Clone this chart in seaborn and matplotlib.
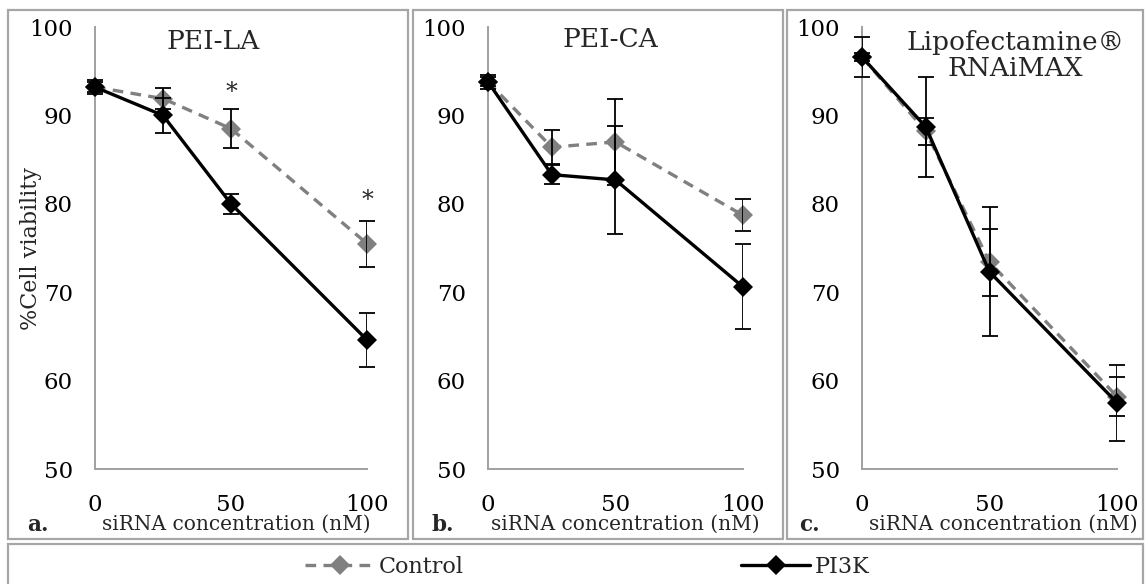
import numpy as np
import pandas as pd
import matplotlib
matplotlib.use("Agg")
import matplotlib.pyplot as plt
from matplotlib.patches import Rectangle
from matplotlib.lines import Line2D
import seaborn as sns

# ---------------- data ----------------
conc = [0, 25, 50, 100]
panels = ["PEI-LA", "PEI-CA", "Lipofectamine®\nRNAiMAX"]
panel_letters = ["a.", "b.", "c."]

ctrl_a = [93.2, 91.9, 88.5, 75.5]
ctrl_a_err = [0.6, 1.2, 2.2, 2.6]
pi3k_a = [93.2, 90.0, 80.0, 64.6]
pi3k_a_err = [0.8, 2.0, 1.1, 3.1]

ctrl_b = [93.8, 86.4, 87.0, 78.7]
ctrl_b_err = [0.5, 1.9, 4.9, 1.8]
pi3k_b = [93.8, 83.3, 82.7, 70.6]
pi3k_b_err = [0.8, 1.1, 6.1, 4.8]

ctrl_c = [96.6, 88.2, 73.4, 58.2]
ctrl_c_err = [0.5, 1.5, 3.8, 2.2]
pi3k_c = [96.6, 88.7, 72.3, 57.5]
pi3k_c_err = [2.3, 5.7, 7.3, 4.3]

star_x = [50, 100]
star_y = [92.6, 80.4]

series_names = ["Control", "PI3K"]
y_ticks = [50, 60, 70, 80, 90, 100]
x_ticks = [0, 50, 100]

# ---------------- style ----------------
sns.set_style("white")
plt.rcParams["font.family"] = ["DejaVu Serif"]

W, H = 1145, 584
fig = plt.figure(figsize=(W / 100, H / 100), dpi=100)

def fx(px):
    return px / W

def fy(py):
    return 1 - py / H

top_px, bot_px = 27, 469
axes_px = [(95, 367), (488, 743), (862, 1117)]
colors = {"Control": "#808080", "PI3K": "#000000"}
spine_col = "#a0a0a0"

data = [
    (ctrl_a, ctrl_a_err, pi3k_a, pi3k_a_err),
    (ctrl_b, ctrl_b_err, pi3k_b, pi3k_b_err),
    (ctrl_c, ctrl_c_err, pi3k_c, pi3k_c_err),
]

title_pos = [(0.436, 0.968), (0.478, 0.972), (0.60, 0.935)]
xlabel_x = [0.518, 0.537, 0.553]
letter_px = [38, 443, 809]

# panel boxes
boxes = [(8, 408), (413, 783), (787, 1143)]
for (x0, x1) in boxes:
    fig.patches.append(Rectangle((fx(x0), fy(539)), fx(x1 - x0), (539 - 10) / H,
                                 transform=fig.transFigure, fill=False,
                                 edgecolor="#a6a6a6", linewidth=1.6, zorder=0))
# legend box
fig.patches.append(Rectangle((fx(8), -0.05), fx(1143 - 8), (584 - 544) / H + 0.05,
                             transform=fig.transFigure, fill=False,
                             edgecolor="#a6a6a6", linewidth=1.6, zorder=0))

for i, ((l, r), (c, ce, p, pe)) in enumerate(zip(axes_px, data)):
    ax = fig.add_axes([fx(l), fy(bot_px), fx(r - l), (bot_px - top_px) / H])
    ax.patch.set_alpha(0)
    df = pd.DataFrame({
        "conc": conc * 2,
        "viability": c + p,
        "series": ["Control"] * 4 + ["PI3K"] * 4,
    })
    sns.lineplot(data=df, x="conc", y="viability", hue="series", style="series",
                 palette=colors, dashes={"Control": (3.2, 2.2), "PI3K": ""},
                 markers={"Control": "D", "PI3K": "D"}, markersize=10,
                 markeredgewidth=0, linewidth=2.4, ax=ax, legend=False,
                 hue_order=series_names, style_order=series_names, zorder=3)
    lines = ax.get_lines()
    if len(lines) >= 2:
        lines[0].set_zorder(3)
        lines[1].set_zorder(4)
    ax.errorbar(conc, c, yerr=ce, fmt="none", ecolor="black", elinewidth=1.3,
                capsize=6, capthick=1.3, zorder=5)
    ax.errorbar(conc, p, yerr=pe, fmt="none", ecolor="black", elinewidth=1.3,
                capsize=6, capthick=1.3, zorder=5)

    ax.set_xlim(0, 100)
    ax.set_ylim(50, 100)
    ax.set_xticks(x_ticks)
    ax.set_yticks(y_ticks)
    ax.set_xticklabels([str(v) for v in x_ticks])
    ax.set_yticklabels([str(v) for v in y_ticks])
    for s in ["top", "right"]:
        ax.spines[s].set_visible(False)
    for s in ["left", "bottom"]:
        ax.spines[s].set_color(spine_col)
        ax.spines[s].set_linewidth(1.4)
        ax.spines[s].set_zorder(1)
    ax.tick_params(axis="both", direction="out", length=6, width=1.4,
                   color=spine_col, labelsize=16.5, labelcolor="black")
    ax.tick_params(axis="x", pad=12)
    ax.tick_params(axis="y", pad=10)
    ax.set_xlabel("siRNA concentration (nM)", fontsize=14.5)
    ax.xaxis.set_label_coords(xlabel_x[i], -0.103)
    if i == 0:
        ax.set_ylabel("%Cell viability", fontsize=16)
        ax.yaxis.set_label_coords(-0.195, 0.5)
        for sx, sy in zip(star_x, star_y):
            ax.text(sx, sy, "*", ha="center", va="center", fontsize=17)
    else:
        ax.set_ylabel("")
    ax.text(title_pos[i][0], title_pos[i][1], panels[i], transform=ax.transAxes,
            ha="center", va="center", fontsize=19, multialignment="center",
            linespacing=1.05)
    ax.grid(False)
    for ln in ax.get_lines():
        ln.set_clip_on(False)
    fig.text(fx(letter_px[i]), fy(525), panel_letters[i], ha="center", va="center",
             fontsize=15.5, fontweight="bold")

handles = [
    Line2D([], [], color=colors["Control"], linestyle=(0, (3.2, 2.2)), linewidth=2.4,
           marker="D", markersize=10, markeredgewidth=0),
    Line2D([], [], color=colors["PI3K"], linestyle="-", linewidth=2.4,
           marker="D", markersize=10, markeredgewidth=0),
]
fig.legend(handles, series_names, loc="center", bbox_to_anchor=(0.513, fy(567)),
           ncol=2, frameon=False, fontsize=16, handlelength=3.1,
           handletextpad=0.2, columnspacing=12.5)

fig.savefig("out.png", dpi=100)
